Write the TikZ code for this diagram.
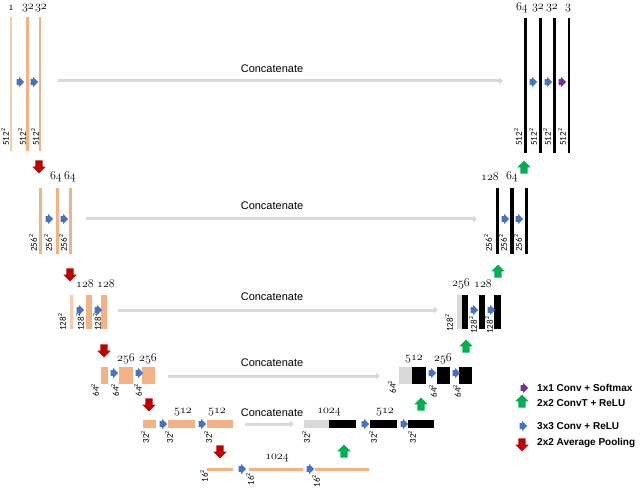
\documentclass[tikz,border=0pt]{standalone}
\usepackage{fontspec}
\newfontfamily\sizefont{Carlito}
\newfontfamily\boxfont{Liberation Sans}
\usetikzlibrary{shapes.arrows}
\usetikzlibrary{arrows.meta}
\definecolor{enc}{HTML}{F4B183}
\definecolor{encl}{HTML}{F8CBAD}
\definecolor{cat}{HTML}{D9D9D9}
\definecolor{convc}{HTML}{4472C4}
\definecolor{poolc}{HTML}{C00000}
\definecolor{upc}{HTML}{00B050}
\definecolor{softc}{HTML}{7030A0}
\newcommand\chan[1]{$\mathnormal{#1}$}
\newcommand\res[1]{#1\textsuperscript{2}}
\tikzset{
  conv/.style={single arrow, fill=convc, inner xsep=0pt, inner ysep=2.5pt,
    minimum width=10pt, minimum height=7.5pt, single arrow head extend=2pt},
  soft/.style={conv, fill=softc},
  bigarrow/.style={single arrow, inner xsep=0pt, inner ysep=3.5pt,
    minimum width=13pt, minimum height=13pt, single arrow head extend=3pt},
  pool/.style={bigarrow, fill=poolc, rotate=-90},
  upconv/.style={bigarrow, fill=upc, rotate=90},
  chan/.style={font=\fontsize{12}{12}\selectfont, inner sep=0pt},
  size/.style={font=\sizefont\fontsize{9}{9}\selectfont, rotate=90, inner sep=0pt},
  concat/.style={draw=cat, line width=3pt, -{Triangle[length=4pt,width=6.5pt]}},
  cattext/.style={font=\boxfont\fontsize{11}{11}\selectfont, inner sep=0pt},
  legtext/.style={font=\boxfont\bfseries\fontsize{10}{10}\selectfont, anchor=west, inner sep=0pt}
}
\begin{document}
\begin{tikzpicture}[x=1pt,y=-1pt]
    \useasboundingbox (0,0) rectangle (640,489);

    % level 1
    \fill[encl] (10,17) rectangle (12,151);
    \fill[enc] (26,17) rectangle (29,151);
    \fill[enc] (38.5,17) rectangle (41,151);
    \fill (524,18) rectangle (526.5,153);
    \fill (539,18) rectangle (541.5,153);
    \fill (553,18) rectangle (555.5,153);
    \fill (568,18) rectangle (570,153);
    \node[chan] (ch1a) at (11,8) {\chan{1}};
    \node[chan] (ch1b) at (28,8) {\chan{32}};
    \node[chan] (ch1c) at (41,8) {\chan{32}};
    \node[chan] (ch1d) at (522,8) {\chan{64}};
    \node[chan] (ch1e) at (538,8) {\chan{32}};
    \node[chan] (ch1f) at (552,8) {\chan{32}};
    \node[chan] (ch1g) at (568,8) {\chan{3}};
    \node[conv] (cv1a) at (19,82) {};
    \node[conv] (cv1b) at (33,82) {};
    \node[conv] (cv1c) at (532,82) {};
    \node[conv] (cv1d) at (547,82) {};
    \node[soft] (sm1) at (561,82) {};
    \node[size] (sz1a) at (5,137) {\res{512}};
    \node[size] (sz1b) at (22,137) {\res{512}};
    \node[size] (sz1c) at (35,137) {\res{512}};
    \node[size] (sz1d) at (518,137) {\res{512}};
    \node[size] (sz1e) at (533,137) {\res{512}};
    \node[size] (sz1f) at (547,137) {\res{512}};
    \node[size] (sz1g) at (562,137) {\res{512}};
    \coordinate (cat1s) at (58,81);
    \coordinate (cat1e) at (503,81);
    \draw[concat] (cat1s) -- (cat1e);
    \node[cattext] (ct1) at (272,69) {Concatenate};

    % level 2
    \node[pool] (pl1) at (39,165) {};
    \fill[enc] (38.5,188) rectangle (41.5,254);
    \fill[enc] (55.5,188) rectangle (58.5,254);
    \fill[enc] (68.5,188) rectangle (71.5,254);
    \fill (495.5,188) rectangle (499,254);
    \fill (510,188) rectangle (513.5,254);
    \fill (524.5,188) rectangle (528,254);
    \node[chan] (ch2a) at (56,177) {\chan{64}};
    \node[chan] (ch2b) at (70,177) {\chan{64}};
    \node[chan] (ch2c) at (490,177) {\chan{128}};
    \node[chan] (ch2d) at (512,177) {\chan{64}};
    \node[upconv] (up1) at (524,169) {};
    \node[conv] (cv2a) at (48,219) {};
    \node[conv] (cv2b) at (63,219) {};
    \node[conv] (cv2c) at (504,219) {};
    \node[conv] (cv2d) at (518,219) {};
    \node[size] (sz2a) at (33,243) {\res{256}};
    \node[size] (sz2b) at (48,243) {\res{256}};
    \node[size] (sz2c) at (63,243) {\res{256}};
    \node[size] (sz2d) at (488,243) {\res{256}};
    \node[size] (sz2e) at (503,243) {\res{256}};
    \node[size] (sz2f) at (518,243) {\res{256}};
    \coordinate (cat2s) at (86,219);
    \coordinate (cat2e) at (477,219);
    \draw[concat] (cat2s) -- (cat2e);
    \node[cattext] (ct2) at (272,206) {Concatenate};

    % level 3
    \node[pool] (pl2) at (70,273) {};
    \fill[encl] (69.5,295) rectangle (73,329);
    \fill[enc] (86,295) rectangle (92,329);
    \fill[enc] (101,295) rectangle (107,329);
    \fill[cat] (457,295) rectangle (462,329);
    \fill (462,295) rectangle (468,329);
    \fill (479,295) rectangle (485,329);
    \fill (494,295) rectangle (501,329);
    \node[chan] (ch3a) at (85,284) {\chan{128}};
    \node[chan] (ch3b) at (106,284) {\chan{128}};
    \node[chan] (ch3c) at (461,284) {\chan{256}};
    \node[chan] (ch3d) at (483,284) {\chan{128}};
    \node[upconv] (up2) at (498,273) {};
    \node[conv] (cv3a) at (79,310) {};
    \node[conv] (cv3b) at (97,310) {};
    \node[conv] (cv3c) at (473,310) {};
    \node[conv] (cv3d) at (490,310) {};
    \node[size] (sz3a) at (62,322) {\res{128}};
    \node[size] (sz3b) at (80,322) {\res{128}};
    \node[size] (sz3c) at (97,322) {\res{128}};
    \node[size] (sz3d) at (449,323) {\res{128}};
    \node[size] (sz3e) at (473,325) {\res{128}};
    \node[size] (sz3f) at (489,325) {\res{128}};
    \coordinate (cat3s) at (118,310);
    \coordinate (cat3e) at (438,310);
    \draw[concat] (cat3s) -- (cat3e);
    \node[cattext] (ct3) at (272,297) {Concatenate};

    % level 4
    \node[pool] (pl3) at (104,349) {};
    \fill[enc] (101,367) rectangle (108,384);
    \fill[enc] (119,367) rectangle (133,384);
    \fill[enc] (142,367) rectangle (155,384);
    \fill[cat] (399,367) rectangle (412,384);
    \fill (412,367) rectangle (426,384);
    \fill (437,367) rectangle (450,384);
    \fill (459,367) rectangle (472,384);
    \node[chan] (ch4a) at (126,359) {\chan{256}};
    \node[chan] (ch4b) at (148,359) {\chan{256}};
    \node[chan] (ch4c) at (414,359) {\chan{512}};
    \node[chan] (ch4d) at (443,359) {\chan{256}};
    \node[upconv] (up3) at (466,348) {};
    \node[conv] (cv4a) at (113,373) {};
    \node[conv] (cv4b) at (138,373) {};
    \node[conv] (cv4c) at (431,373) {};
    \node[conv] (cv4d) at (455,373) {};
    \node[size] (sz4a) at (95,390) {\res{64}};
    \node[size] (sz4b) at (115,390) {\res{64}};
    \node[size] (sz4c) at (138,390) {\res{64}};
    \node[size] (sz4d) at (392,387) {\res{64}};
    \node[size] (sz4e) at (433,391) {\res{64}};
    \node[size] (sz4f) at (457,391) {\res{64}};
    \coordinate (cat4s) at (168,376);
    \coordinate (cat4e) at (380,376);
    \draw[concat] (cat4s) -- (cat4e);
    \node[cattext] (ct4) at (272,363) {Concatenate};

    % level 5
    \node[pool] (pl4) at (149,403) {};
    \fill[enc] (143,420) rectangle (156,428);
    \fill[enc] (168,420) rectangle (195,428);
    \fill[enc] (207,420) rectangle (233,428);
    \fill[cat] (304,420) rectangle (329,428);
    \fill (329,420) rectangle (356,428);
    \fill (370,420) rectangle (397,428);
    \fill (408,420) rectangle (434,428);
    \node[chan] (ch5a) at (183,412) {\chan{512}};
    \node[chan] (ch5b) at (217,412) {\chan{512}};
    \node[chan] (ch5c) at (329,412) {\chan{1024}};
    \node[chan] (ch5d) at (385,412) {\chan{512}};
    \node[upconv] (up4) at (421,406) {};
    \node[conv] (cv5a) at (162,424) {};
    \node[conv] (cv5b) at (201,424) {};
    \node[conv] (cv5c) at (364,424) {};
    \node[conv] (cv5d) at (403,424) {};
    \node[size] (sz5a) at (145,437) {\res{32}};
    \node[size] (sz5b) at (169,437) {\res{32}};
    \node[size] (sz5c) at (208,437) {\res{32}};
    \node[size] (sz5d) at (306,437) {\res{32}};
    \node[size] (sz5e) at (373,437) {\res{32}};
    \node[size] (sz5f) at (412,437) {\res{32}};
    \coordinate (cat5s) at (245,424);
    \coordinate (cat5e) at (294,424);
    \draw[concat] (cat5s) -- (cat5e);
    \node[cattext] (ct5) at (272,413) {Concatenate};

    % bottom
    \node[pool] (pl5) at (220,450) {};
    \fill[enc] (207,468) rectangle (233,471);
    \fill[enc] (249,468) rectangle (303,471);
    \fill[enc] (315,468) rectangle (369,471);
    \node[chan] (ch6a) at (277,458) {\chan{1024}};
    \node[upconv] (up5) at (344,453) {};
    \node[conv] (cv6a) at (241,469) {};
    \node[conv] (cv6b) at (309,469) {};
    \node[size] (sz6a) at (204,476) {\res{16}};
    \node[size] (sz6b) at (250,479) {\res{16}};
    \node[size] (sz6c) at (316,481) {\res{16}};

    % legend
    \node[soft] (lg1) at (523,388) {};
    \node[upconv] (lg2) at (522,403) {};
    \node[conv] (lg3) at (522,426) {};
    \node[pool] (lg4) at (522,443) {};
    \node[legtext] (lt1) at (537,388) {1x1 Conv + Softmax};
    \node[legtext] (lt2) at (537,403) {2x2 ConvT + ReLU};
    \node[legtext] (lt3) at (537,426) {3x3 Conv + ReLU};
    \node[legtext] (lt4) at (537,443) {2x2 Average Pooling};
\end{tikzpicture}
\end{document}
